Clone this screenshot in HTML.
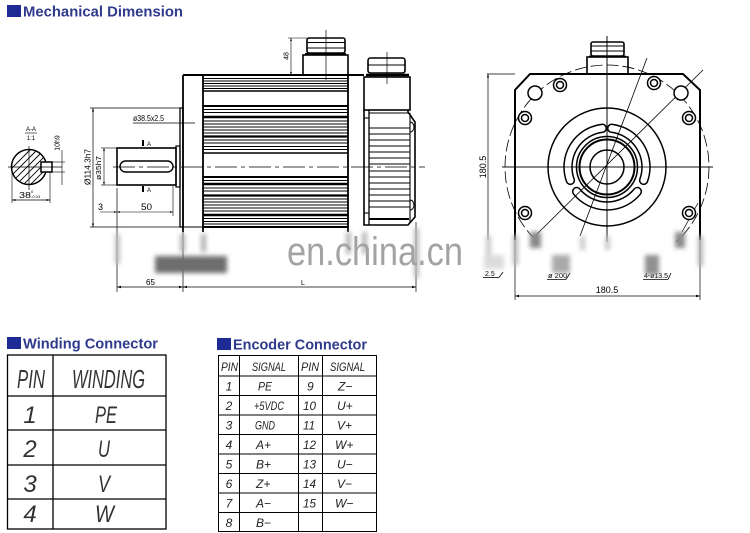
<!DOCTYPE html>
<html><head><meta charset="utf-8"><style>
html,body{margin:0;padding:0;background:#fff;}
svg{display:block;}
</style></head><body>
<svg width="750" height="533" viewBox="0 0 750 533" xmlns="http://www.w3.org/2000/svg" font-family="'Liberation Sans', sans-serif">
<defs>
<filter id="b" x="-50%" y="-50%" width="200%" height="200%"><feGaussianBlur stdDeviation="2.5"/></filter>
<marker id="ar" viewBox="0 0 10 10" refX="10" refY="5" markerWidth="5" markerHeight="5" orient="auto-start-reverse"><path d="M0,2 L10,5 L0,8z" fill="#000"/></marker>
<clipPath id="cc"><circle cx="29" cy="167" r="17.5"/></clipPath>
<clipPath id="top240"><rect x="0" y="0" width="750" height="242"/></clipPath>
</defs>

<!-- Header -->
<rect x="7" y="5" width="14" height="12" fill="#1f2b95"/>
<text x="23" y="16.5" font-size="15" font-weight="bold" fill="#2e3a8c" textLength="160" lengthAdjust="spacingAndGlyphs">Mechanical Dimension</text>

<!-- Section A-A -->
<g stroke="#000" fill="none">
  <circle cx="29" cy="167" r="17.5" stroke-width="1.5"/>
  <g clip-path="url(#cc)" stroke-width="0.9">
    <line x1="-10" y1="190" x2="30" y2="150"/>
    <line x1="-3" y1="190" x2="37" y2="150"/>
    <line x1="4" y1="190" x2="44" y2="150"/>
    <line x1="11" y1="190" x2="51" y2="150"/>
    <line x1="18" y1="190" x2="58" y2="150"/>
    <line x1="25" y1="190" x2="65" y2="150"/>
    <line x1="32" y1="190" x2="72" y2="150"/>
  </g>
  <rect x="41" y="162" width="11" height="10" fill="#fff" stroke-width="1.5"/>
  <line x1="8" y1="167" x2="62" y2="167" stroke-width="0.7"/>
  <line x1="29" y1="146" x2="29" y2="190" stroke-width="0.7"/>
  <line x1="52" y1="162" x2="65" y2="162" stroke-width="0.6"/>
  <line x1="52" y1="172" x2="65" y2="172" stroke-width="0.6"/>
  <line x1="62" y1="150" x2="62" y2="185" stroke-width="0.6"/>
  <line x1="12" y1="170" x2="12" y2="203" stroke-width="0.6"/>
  <line x1="50" y1="172" x2="50" y2="203" stroke-width="0.6"/>
  <line x1="12" y1="200" x2="50" y2="200" stroke-width="0.7" marker-start="url(#ar)" marker-end="url(#ar)"/>
  <line x1="25" y1="133" x2="37" y2="133" stroke-width="0.6"/>
</g>
<text x="31" y="131" font-size="6" text-anchor="middle">A-A</text>
<text x="31" y="140" font-size="6" text-anchor="middle">1:1</text>
<text transform="translate(59.5,143) rotate(-90)" font-size="7" text-anchor="middle">10h9</text>
<text x="19" y="198" font-size="8" textLength="12" lengthAdjust="spacingAndGlyphs">38</text>
<text x="31" y="193" font-size="4">0</text>
<text x="31" y="198" font-size="4">-0.03</text>

<!-- Side view: shaft & flange dims -->
<g stroke="#000" fill="none">
  <line x1="90" y1="108" x2="180" y2="108" stroke-width="0.7"/>
  <line x1="90" y1="227" x2="180" y2="227" stroke-width="0.7"/>
  <line x1="93" y1="108" x2="93" y2="227" stroke-width="0.7" marker-start="url(#ar)" marker-end="url(#ar)"/>
  <line x1="101" y1="148" x2="117" y2="148" stroke-width="0.6"/>
  <line x1="101" y1="185" x2="117" y2="185" stroke-width="0.6"/>
  <line x1="104" y1="148" x2="104" y2="185" stroke-width="0.6" marker-start="url(#ar)" marker-end="url(#ar)"/>
  <line x1="133" y1="123" x2="195" y2="123" stroke-width="0.7"/>
  <rect x="117" y="148" width="59" height="37" stroke-width="1.6"/>
  <rect x="176" y="146" width="4" height="41" stroke-width="1.2"/>
  <rect x="180" y="108" width="3" height="119" stroke-width="1.3"/>
  <rect x="120" y="161" width="53" height="11" rx="5.5" stroke-width="1.4"/>
  <line x1="117" y1="188" x2="117" y2="292" stroke-width="0.7"/>
  <line x1="173" y1="186" x2="173" y2="216" stroke-width="0.6"/>
  <line x1="100" y1="212" x2="117" y2="212" stroke-width="0.6" marker-end="url(#ar)"/>
  <line x1="117" y1="212" x2="173" y2="212" stroke-width="0.6" marker-start="url(#ar)" marker-end="url(#ar)"/>
  <line x1="117" y1="287" x2="183" y2="287" stroke-width="0.8" marker-start="url(#ar)" marker-end="url(#ar)"/>
  <line x1="183" y1="287" x2="416" y2="287" stroke-width="0.8" marker-start="url(#ar)" marker-end="url(#ar)"/>
  <line x1="183" y1="227" x2="183" y2="292" stroke-width="0.7"/>
  <line x1="416" y1="222" x2="416" y2="292" stroke-width="0.7"/>
</g>
<rect x="142" y="140" width="2" height="6" fill="#000"/>
<text x="147" y="146" font-size="6">A</text>
<rect x="142" y="186" width="2" height="6" fill="#000"/>
<text x="147" y="192" font-size="6">A</text>
<text transform="translate(90.5,167) rotate(-90)" font-size="8.5" text-anchor="middle" textLength="36" lengthAdjust="spacingAndGlyphs">Ø114.3h7</text>
<text transform="translate(101,168) rotate(-90)" font-size="7" text-anchor="middle" textLength="24" lengthAdjust="spacingAndGlyphs">ø35h7</text>
<text x="133" y="121" font-size="8" textLength="31" lengthAdjust="spacingAndGlyphs">ø38.5x2.5</text>
<text x="98" y="210" font-size="9">3</text>
<text x="141" y="210" font-size="9" textLength="11" lengthAdjust="spacingAndGlyphs">50</text>
<text x="146" y="285" font-size="8">65</text>
<text x="301" y="285" font-size="7">L</text>

<!-- Motor body -->
<g stroke="#000" fill="none">
  <line x1="183" y1="75" x2="364" y2="75" stroke-width="2"/>
  <line x1="183" y1="75" x2="183" y2="232" stroke-width="1.8"/>
  <line x1="203" y1="75" x2="203" y2="232" stroke-width="1.8"/>
  <line x1="348" y1="75" x2="348" y2="232" stroke-width="1.8"/>
  <line x1="183" y1="227" x2="203" y2="227" stroke-width="1"/>
  <g stroke-width="1">
    <line x1="203" y1="78.5" x2="348" y2="78.5"/>
    <line x1="203" y1="81" x2="348" y2="81"/>
    <line x1="203" y1="83.5" x2="348" y2="83.5"/>
    <line x1="203" y1="86" x2="348" y2="86"/>
    <line x1="203" y1="88.5" x2="348" y2="88.5"/>
    <line x1="203" y1="91" x2="348" y2="91" stroke-width="1.5"/>
    <line x1="203" y1="106" x2="348" y2="106" stroke-width="2"/>
    <line x1="203" y1="109.5" x2="348" y2="109.5"/>
    <line x1="203" y1="112.5" x2="348" y2="112.5"/>
    <line x1="203" y1="117" x2="348" y2="117" stroke-width="2.5"/>
    <line x1="203" y1="121" x2="348" y2="121"/>
    <line x1="203" y1="124" x2="348" y2="124"/>
    <line x1="203" y1="127" x2="348" y2="127"/>
    <line x1="203" y1="130" x2="348" y2="130"/>
    <line x1="203" y1="133" x2="348" y2="133"/>
    <line x1="203" y1="136.5" x2="348" y2="136.5" stroke-width="2.2"/>
    <line x1="203" y1="140" x2="348" y2="140"/>
    <line x1="203" y1="143" x2="348" y2="143"/>
    <line x1="203" y1="146.5" x2="348" y2="146.5"/>
    <line x1="203" y1="149.5" x2="348" y2="149.5"/>
    <line x1="203" y1="153" x2="348" y2="153" stroke-width="1.5"/>
    <line x1="203" y1="177" x2="348" y2="177" stroke-width="2"/>
    <line x1="203" y1="180.5" x2="348" y2="180.5"/>
    <line x1="203" y1="184" x2="348" y2="184" stroke-width="2.5"/>
    <line x1="203" y1="188" x2="348" y2="188"/>
    <line x1="203" y1="191" x2="348" y2="191"/>
    <line x1="203" y1="195.5" x2="348" y2="195.5" stroke-width="2.2"/>
    <line x1="203" y1="199" x2="348" y2="199"/>
    <line x1="203" y1="202" x2="348" y2="202"/>
    <line x1="203" y1="205" x2="348" y2="205"/>
    <line x1="203" y1="208" x2="348" y2="208"/>
    <line x1="203" y1="211" x2="348" y2="211"/>
    <line x1="203" y1="215" x2="348" y2="215" stroke-width="2.5"/>
    <line x1="203" y1="218.5" x2="348" y2="218.5"/>
    <line x1="203" y1="221.5" x2="348" y2="221.5"/>
    <line x1="203" y1="224" x2="348" y2="224"/>
    <line x1="203" y1="227" x2="348" y2="227" stroke-width="2"/>
  </g>
  <!-- power connector -->
  <rect x="303" y="55" width="45" height="20" stroke-width="1.6"/>
  <rect x="307" y="38" width="38" height="15" rx="2" stroke-width="1.6"/>
  <line x1="307" y1="42.5" x2="345" y2="42.5" stroke-width="1"/>
  <line x1="307" y1="48" x2="345" y2="48" stroke-width="1"/>
  <line x1="305" y1="54" x2="346" y2="54" stroke-width="2"/>
  <line x1="326" y1="30" x2="326" y2="80" stroke-width="0.7"/>
  <line x1="288" y1="38" x2="307" y2="38" stroke-width="0.6"/>
  <line x1="291" y1="38" x2="291" y2="75" stroke-width="0.6" marker-start="url(#ar)" marker-end="url(#ar)"/>
  <!-- encoder -->
  <rect x="368" y="58" width="37" height="15" rx="2.5" stroke-width="1.6"/>
  <line x1="368" y1="65" x2="405" y2="65" stroke-width="1"/>
  <line x1="366" y1="75" x2="409" y2="75" stroke-width="2.5"/>
  <rect x="364" y="77" width="46" height="33" stroke-width="1.6"/>
  <line x1="387" y1="52" x2="387" y2="84" stroke-width="0.7"/>
  <path d="M364,110 L364,225 L408,225 L415,217 L415,122 L408,112 L408,110" stroke-width="1.6"/>
  <line x1="369" y1="110" x2="369" y2="225" stroke-width="1.3"/>
  <g stroke-width="1.1">
    <line x1="369" y1="113" x2="409" y2="113"/>
    <line x1="369" y1="128" x2="410" y2="128"/>
    <line x1="369" y1="134" x2="410" y2="134"/>
    <line x1="369" y1="140" x2="410" y2="140"/>
    <line x1="369" y1="146" x2="410" y2="146"/>
    <line x1="369" y1="152" x2="410" y2="152"/>
    <line x1="369" y1="158" x2="410" y2="158"/>
    <line x1="369" y1="164" x2="410" y2="164"/>
    <line x1="369" y1="171" x2="410" y2="171"/>
    <line x1="369" y1="177" x2="410" y2="177"/>
    <line x1="369" y1="183" x2="410" y2="183"/>
    <line x1="369" y1="189" x2="410" y2="189"/>
    <line x1="369" y1="195" x2="410" y2="195"/>
    <line x1="369" y1="201" x2="410" y2="201"/>
    <line x1="369" y1="207" x2="410" y2="207"/>
    <line x1="369" y1="219" x2="409" y2="219" stroke-width="2"/>
    <line x1="410" y1="113" x2="410" y2="223"/>
    <line x1="364" y1="118" x2="369" y2="118"/>
    <line x1="364" y1="213" x2="369" y2="213"/>
  </g>
  <path d="M410,122 A4,5 0 0 1 410,132" stroke-width="1"/>
  <path d="M410,200 A4,5 0 0 1 410,210" stroke-width="1"/>
  <line x1="113" y1="167" x2="425" y2="167" stroke-width="0.8" stroke-dasharray="22 4 4 4"/>
</g>
<text transform="translate(288.5,56) rotate(-90)" font-size="7" text-anchor="middle">48</text>

<!-- Front view -->
<g stroke="#000" fill="none">
  <path d="M515,240 L515,90 L530,74 L683,74 L700,90 L700,240" stroke-width="2"/>
  <rect x="587" y="57" width="41" height="17" stroke-width="1.6"/>
  <rect x="591" y="42" width="33" height="14" rx="2" stroke-width="1.6"/>
  <line x1="591" y1="46" x2="624" y2="46" stroke-width="1"/>
  <line x1="591" y1="51" x2="624" y2="51" stroke-width="1"/>
  <line x1="589" y1="56.5" x2="626" y2="56.5" stroke-width="1.8"/>
  <line x1="502" y1="167" x2="713" y2="167" stroke-width="0.8"/>
  <line x1="607" y1="36" x2="607" y2="242" stroke-width="0.8"/>
  <circle cx="607" cy="167" r="102" stroke-width="0.8" stroke-dasharray="12 4" clip-path="url(#top240)"/>
  <circle cx="607" cy="167" r="59" stroke-width="1.5"/>
  <circle cx="607" cy="167" r="30.5" stroke-width="1.5"/>
  <circle cx="607" cy="167" r="27.5" stroke-width="2"/>
  <circle cx="607" cy="167" r="17" stroke-width="1.5"/>
  <!-- slots -->
  <g stroke-linecap="round">
    <path d="M602.25,128.29 A39,39 0 0 0 570.35,180.34" stroke="#000" stroke-width="9.5"/>
    <path d="M602.25,128.29 A39,39 0 0 0 570.35,180.34" stroke="#fff" stroke-width="6.5"/>
    <path d="M611.75,128.29 A39,39 0 0 1 643.65,180.34" stroke="#000" stroke-width="9.5"/>
    <path d="M611.75,128.29 A39,39 0 0 1 643.65,180.34" stroke="#fff" stroke-width="6.5"/>
    <path d="M576.69,191.54 A39,39 0 0 0 637.31,191.54" stroke="#000" stroke-width="9.5"/>
    <path d="M576.69,191.54 A39,39 0 0 0 637.31,191.54" stroke="#fff" stroke-width="6.5"/>
  </g>
  <line x1="607" y1="36" x2="607" y2="242" stroke-width="0.8"/>
  <line x1="502" y1="167" x2="713" y2="167" stroke-width="0.8"/>
  <line x1="703" y1="70" x2="535" y2="236" stroke-width="0.8"/>
  <line x1="647" y1="58" x2="580" y2="236" stroke-width="0.8"/>
  <line x1="698" y1="203" x2="682" y2="232" stroke-width="0.7"/>
  <!-- holes -->
  <g stroke-width="1.5" fill="#fff">
    <circle cx="560" cy="85" r="6.5"/><circle cx="560" cy="85" r="3.5"/>
    <circle cx="654" cy="83" r="6.5"/><circle cx="654" cy="83" r="3.5"/>
    <circle cx="525" cy="118" r="6.5"/><circle cx="525" cy="118" r="3.5"/>
    <circle cx="689" cy="118" r="6.5"/><circle cx="689" cy="118" r="3.5"/>
    <circle cx="525" cy="213" r="6.5"/><circle cx="525" cy="213" r="3.5"/>
    <circle cx="689" cy="213" r="6.5"/><circle cx="689" cy="213" r="3.5"/>
    <circle cx="535" cy="93" r="7"/>
    <circle cx="681" cy="93" r="7"/>
  </g>
  <line x1="487" y1="74" x2="515" y2="74" stroke-width="0.7"/>
  <line x1="488" y1="74" x2="488" y2="240" stroke-width="0.7" marker-start="url(#ar)"/>
  <line x1="515" y1="240" x2="515" y2="300" stroke-width="0.7"/>
  <line x1="700" y1="240" x2="700" y2="300" stroke-width="0.7"/>
  <line x1="515" y1="296" x2="700" y2="296" stroke-width="0.8" marker-start="url(#ar)" marker-end="url(#ar)"/>
  <line x1="547" y1="279.5" x2="566" y2="279.5" stroke-width="0.8"/>
  <line x1="566" y1="279.5" x2="570" y2="273" stroke-width="0.8"/>
  <line x1="643" y1="279.5" x2="668" y2="279.5" stroke-width="0.8"/>
  <line x1="668" y1="279.5" x2="671" y2="273" stroke-width="0.8"/>
  <line x1="483" y1="277.5" x2="499" y2="277.5" stroke-width="0.8"/>
  <line x1="499" y1="277.5" x2="503" y2="272" stroke-width="0.8"/>
</g>
<text transform="translate(486,167) rotate(-90)" font-size="9" text-anchor="middle">180.5</text>
<text x="607" y="293" font-size="9" text-anchor="middle">180.5</text>
<text x="548" y="278" font-size="7.5">ø 200</text>
<text x="644" y="278" font-size="7.5" textLength="24" lengthAdjust="spacingAndGlyphs">4-ø13.5</text>
<text x="485" y="276" font-size="7">2.5</text>

<!-- blurred areas -->
<g filter="url(#b)">
  <rect x="155" y="256" width="72" height="17" fill="#6e6e6e"/>
  <rect x="115" y="234" width="5" height="30" fill="#bdbdbd"/>
  <rect x="180" y="234" width="5" height="18" fill="#b0b0b0"/>
  <rect x="201" y="234" width="5" height="18" fill="#b0b0b0"/>
  <rect x="346" y="232" width="5" height="22" fill="#b5b5b5"/>
  <rect x="362" y="232" width="5" height="22" fill="#b5b5b5"/>
  <rect x="414" y="228" width="5" height="50" fill="#bbbbbb"/>
  <rect x="486" y="235" width="5" height="20" fill="#c8c8c8"/>
  <rect x="513" y="235" width="5" height="30" fill="#b5b5b5"/>
  <rect x="530" y="232" width="11" height="16" fill="#888"/>
  <rect x="580" y="236" width="5" height="14" fill="#c8c8c8"/>
  <rect x="605" y="236" width="5" height="14" fill="#c8c8c8"/>
  <rect x="675" y="232" width="10" height="16" fill="#8a8a8a"/>
  <rect x="698" y="236" width="5" height="30" fill="#b5b5b5"/>
  <rect x="484" y="255" width="20" height="14" fill="#dcdcdc"/>
  <rect x="552" y="255" width="18" height="18" fill="#aaa"/>
  <rect x="645" y="255" width="14" height="20" fill="#8f8f8f"/>
</g>

<!-- watermark -->
<text x="287" y="265" font-size="40" fill="#a3a3a3" textLength="176" lengthAdjust="spacingAndGlyphs">en.china.cn</text>

<!-- Winding Connector -->
<rect x="7" y="337" width="14" height="12" fill="#1f2b95"/>
<text x="23" y="348.5" font-size="15" font-weight="bold" fill="#2e3a8c" textLength="135" lengthAdjust="spacingAndGlyphs">Winding Connector</text>
<g stroke="#000" stroke-width="1.3" fill="none">
  <rect x="7.5" y="355" width="158.5" height="174"/>
  <line x1="7.5" y1="396" x2="166" y2="396"/>
  <line x1="7.5" y1="430" x2="166" y2="430"/>
  <line x1="7.5" y1="465" x2="166" y2="465"/>
  <line x1="7.5" y1="499" x2="166" y2="499"/>
  <line x1="53" y1="355" x2="53" y2="529"/>
</g>
<g font-style="italic" fill="#333">
  <text x="17" y="388" font-size="26" textLength="28" lengthAdjust="spacingAndGlyphs">PIN</text>
  <text x="72" y="388" font-size="26" textLength="73" lengthAdjust="spacingAndGlyphs">WINDING</text>
  <text x="30" y="423" font-size="24" text-anchor="middle">1</text>
  <text x="95" y="423" font-size="24" textLength="22" lengthAdjust="spacingAndGlyphs">PE</text>
  <text x="30" y="457" font-size="24" text-anchor="middle">2</text>
  <text x="98" y="457" font-size="24" textLength="12" lengthAdjust="spacingAndGlyphs">U</text>
  <text x="30" y="492" font-size="24" text-anchor="middle">3</text>
  <text x="98" y="492" font-size="24" textLength="12" lengthAdjust="spacingAndGlyphs">V</text>
  <text x="30" y="522" font-size="24" text-anchor="middle">4</text>
  <text x="95" y="522" font-size="24" textLength="19" lengthAdjust="spacingAndGlyphs">W</text>
</g>

<!-- Encoder Connector -->
<rect x="217" y="338" width="14" height="12" fill="#1f2b95"/>
<text x="233" y="349.5" font-size="15" font-weight="bold" fill="#2e3a8c" textLength="134" lengthAdjust="spacingAndGlyphs">Encoder Connector</text>
<g stroke="#000" stroke-width="1" fill="none">
  <rect x="218.5" y="355.5" width="158" height="176"/>
  <line x1="218.5" y1="376" x2="376.5" y2="376"/>
  <line x1="218.5" y1="395.5" x2="376.5" y2="395.5"/>
  <line x1="218.5" y1="415" x2="376.5" y2="415"/>
  <line x1="218.5" y1="434.5" x2="376.5" y2="434.5"/>
  <line x1="218.5" y1="454" x2="376.5" y2="454"/>
  <line x1="218.5" y1="473.5" x2="376.5" y2="473.5"/>
  <line x1="218.5" y1="493" x2="376.5" y2="493"/>
  <line x1="218.5" y1="512.5" x2="376.5" y2="512.5"/>
  <line x1="239.5" y1="355.5" x2="239.5" y2="531.5"/>
  <line x1="298.5" y1="355.5" x2="298.5" y2="531.5"/>
  <line x1="322.5" y1="355.5" x2="322.5" y2="531.5"/>
</g>
<g font-style="italic" fill="#222" font-size="12">
  <text x="221" y="371" textLength="17" lengthAdjust="spacingAndGlyphs">PIN</text>
  <text x="252" y="371" textLength="34" lengthAdjust="spacingAndGlyphs">SIGNAL</text>
  <text x="301" y="371" textLength="18" lengthAdjust="spacingAndGlyphs">PIN</text>
  <text x="330" y="371" textLength="35" lengthAdjust="spacingAndGlyphs">SIGNAL</text>

  <text x="229" y="390.5" text-anchor="middle">1</text>
  <text x="258" y="390.5" textLength="14" lengthAdjust="spacingAndGlyphs">PE</text>
  <text x="307" y="390.5">9</text>
  <text x="338" y="390.5">Z−</text>

  <text x="229" y="410" text-anchor="middle">2</text>
  <text x="254" y="410" textLength="30" lengthAdjust="spacingAndGlyphs">+5VDC</text>
  <text x="303" y="410" textLength="13" lengthAdjust="spacingAndGlyphs">10</text>
  <text x="337" y="410">U+</text>

  <text x="229" y="429.5" text-anchor="middle">3</text>
  <text x="255" y="429.5" textLength="20" lengthAdjust="spacingAndGlyphs">GND</text>
  <text x="303" y="429.5" textLength="12" lengthAdjust="spacingAndGlyphs">11</text>
  <text x="337" y="429.5">V+</text>

  <text x="229" y="449" text-anchor="middle">4</text>
  <text x="256" y="449">A+</text>
  <text x="303" y="449" textLength="13" lengthAdjust="spacingAndGlyphs">12</text>
  <text x="335" y="449">W+</text>

  <text x="229" y="468.5" text-anchor="middle">5</text>
  <text x="256" y="468.5">B+</text>
  <text x="303" y="468.5" textLength="13" lengthAdjust="spacingAndGlyphs">13</text>
  <text x="337" y="468.5">U−</text>

  <text x="229" y="488" text-anchor="middle">6</text>
  <text x="256" y="488">Z+</text>
  <text x="303" y="488" textLength="13" lengthAdjust="spacingAndGlyphs">14</text>
  <text x="337" y="488">V−</text>

  <text x="229" y="507.5" text-anchor="middle">7</text>
  <text x="256" y="507.5">A−</text>
  <text x="303" y="507.5" textLength="13" lengthAdjust="spacingAndGlyphs">15</text>
  <text x="335" y="507.5">W−</text>

  <text x="229" y="527" text-anchor="middle">8</text>
  <text x="256" y="527">B−</text>
</g>
</svg>
</body></html>
